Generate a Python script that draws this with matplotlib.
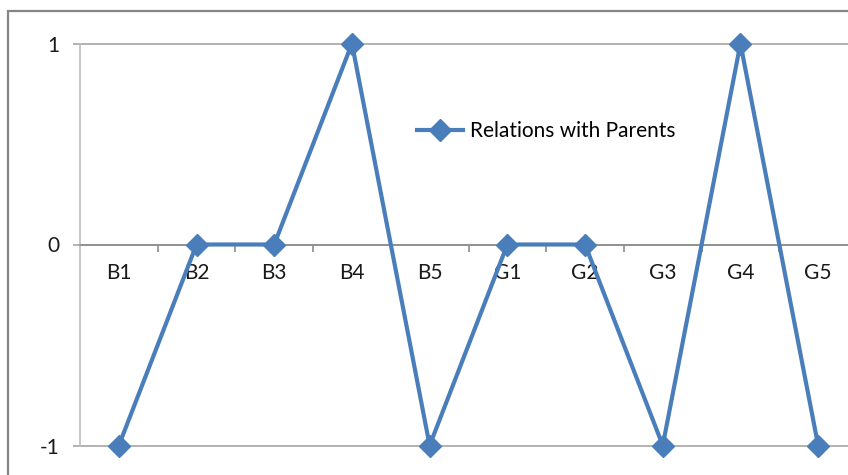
import matplotlib
matplotlib.use("Agg")
import matplotlib.pyplot as plt
from matplotlib.patches import Rectangle
import numpy as np

categories = ["B1", "B2", "B3", "B4", "B5", "G1", "G2", "G3", "G4", "G5"]
relations = [-1, 0, 0, 1, -1, 0, 0, -1, 1, -1]
series_name = "Relations with Parents"
y_ticks = [-1, 0, 1]

plt.rcParams["font.family"] = ["Lato", "DejaVu Sans"]

W, H = 848, 475
fig = plt.figure(figsize=(W / 100, H / 100), dpi=100)

# chart frame (extends past the right and bottom edges)
fig.patches.append(Rectangle((8 / W, -0.2), 1.2, (H - 11) / H + 0.2,
                             transform=fig.transFigure, fill=False,
                             edgecolor="#868686", linewidth=1.6))

left, right = 80 / W, 857 / W
bottom, top = (H - 445.5) / H, (H - 43.5) / H
ax = fig.add_axes([left, bottom, right - left, top - bottom])

x = np.arange(len(categories))
line_color = "#4a7ebb"
ax.plot(x, relations, color=line_color, linewidth=3.0, marker="D",
        markersize=11.5, clip_on=False, zorder=5, label=series_name)

ax.set_xlim(-0.5, len(categories) - 0.5)
ax.set_ylim(-1, 1)

grid_color = "#a6a6a6"
for yv in y_ticks:
    ax.axhline(yv, color=grid_color, linewidth=1.2, zorder=1, clip_on=False)

for side in ("top", "right"):
    ax.spines[side].set_visible(False)
ax.spines["left"].set_color("#bfbfbf")
ax.spines["left"].set_linewidth(1.2)
ax.spines["bottom"].set_position(("data", 0))
ax.spines["bottom"].set_color("#8c8c8c")
ax.spines["bottom"].set_linewidth(1.2)

label_size = 15
ax.set_yticks(y_ticks)
ax.set_yticklabels([str(v) for v in y_ticks])
ax.tick_params(axis="y", length=5, width=1.2, color=grid_color, pad=10,
               labelsize=label_size, labelcolor="#1a1a1a")

ax.set_xticks(np.arange(len(categories)) + 0.5)
ax.set_xticklabels([])
ax.tick_params(axis="x", which="major", length=5, width=1.2, color="#8c8c8c",
               direction="out")
ax.set_xticks(x, minor=True)
ax.set_xticklabels(categories, minor=True)
ax.tick_params(axis="x", which="minor", length=0, pad=13, labelsize=label_size,
               labelcolor="#1a1a1a")

leg = ax.legend(loc="upper left", frameon=False, fontsize=label_size,
                handlelength=2.2, handletextpad=0.35, borderpad=0.2,
                borderaxespad=0)
leg.set_bbox_to_anchor(((413 - 80) / 777, (445.5 - 117) / 402),
                       transform=ax.transAxes)

fig.savefig("out.png", dpi=100, facecolor="white")
